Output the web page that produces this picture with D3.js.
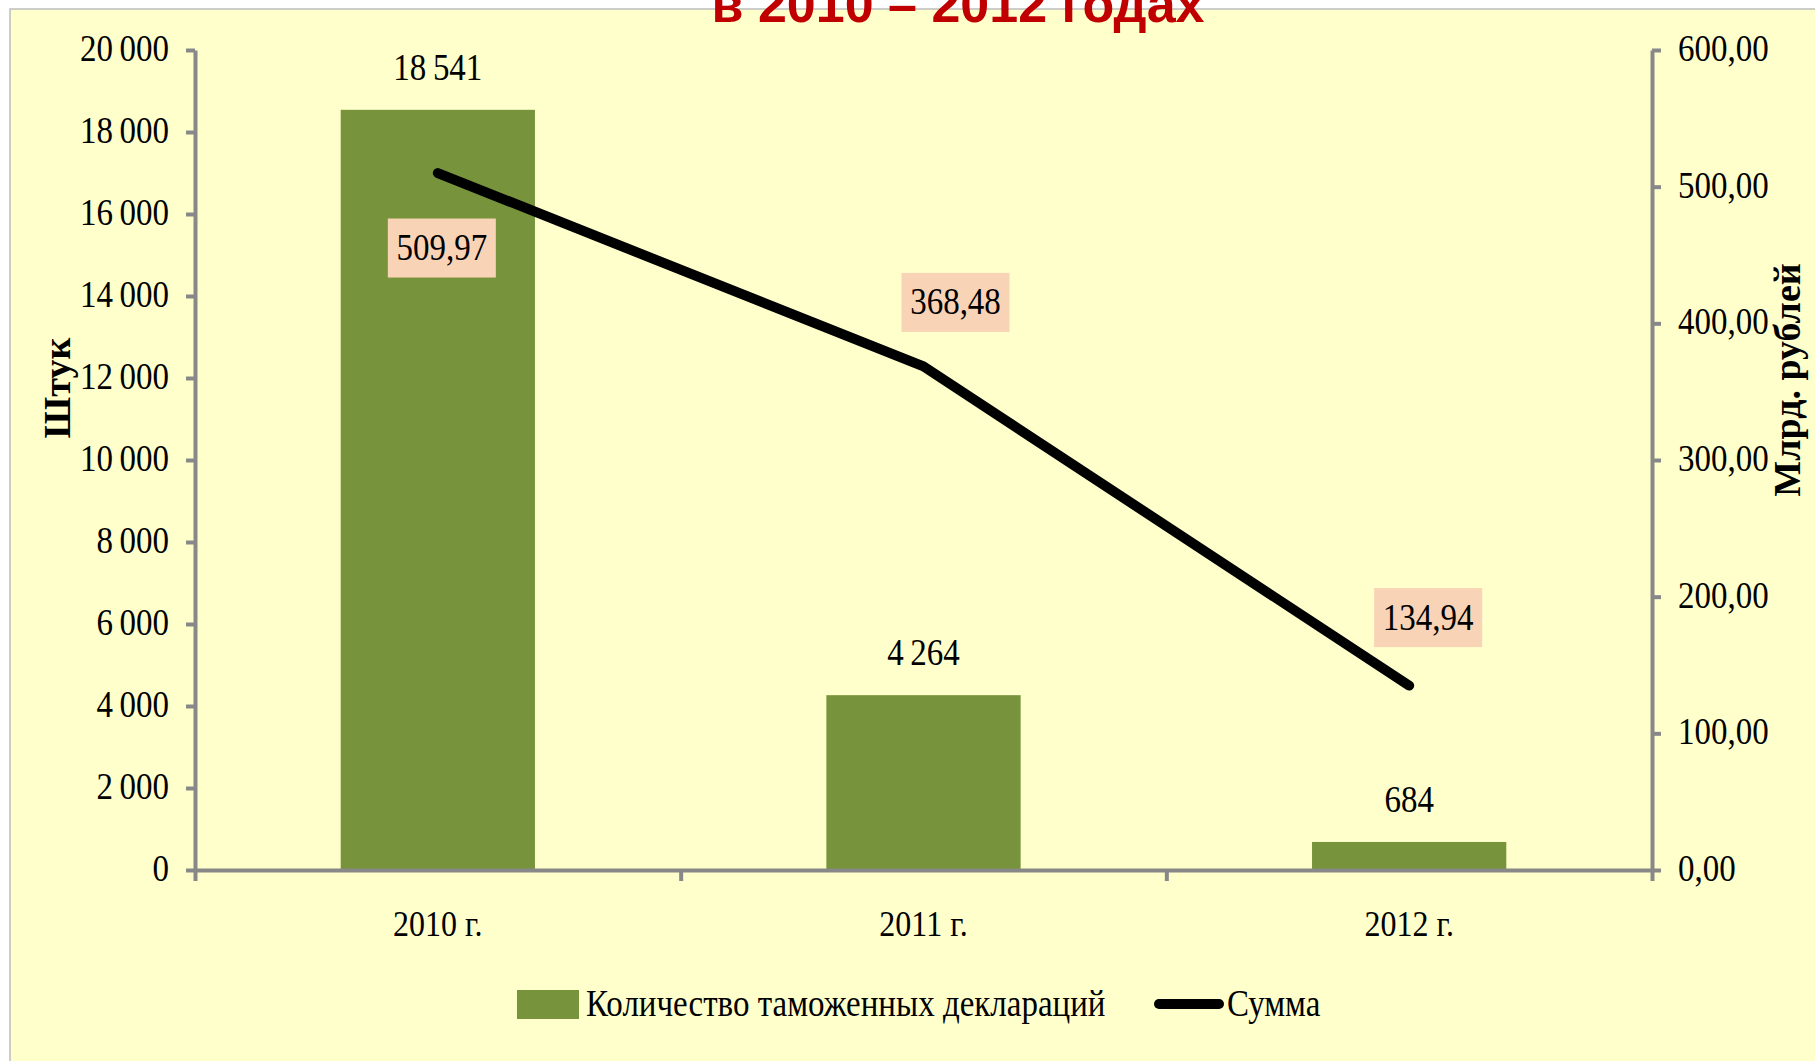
<!DOCTYPE html>
<html>
<head>
<meta charset="utf-8">
<script src="https://cdn.jsdelivr.net/npm/d3@7/dist/d3.min.js"></script>
<style>
  body { margin: 0; background: #fff; }
  svg { display: block; }
  .tick text { font-family: 'Liberation Serif', serif; fill: #000; }
</style>
</head>
<body>
<div class="chart"></div>
<script>
// declarations 2010-2012: count (bars) and sum (line)
const years = ['2010 г.', '2011 г.', '2012 г.']
const declarations = [18541, 4264, 684]
const sums = [509.97, 368.48, 134.94]

const leftTicks = [0, 2000, 4000, 6000, 8000, 10000, 12000, 14000, 16000, 18000, 20000]
const rightTicks = [0, 100, 200, 300, 400, 500, 600]

// hand-placed label boxes for the line (offset from point), like in the original
const sumLabelShift = [[4, 75], [32, -64], [19, -68]]

const ru = d3.formatLocale({decimal: ',', thousands: '\u2009', grouping: [3], currency: ['', '']})
const fmtInt = ru.format(',d')
const fmtDec = ru.format(',.2f')

var svgWidth = 1815
var svgHeight = 1061

var margin = {top: 50, bottom: 191, left: 195, right: 163}
var width = svgWidth - margin.left - margin.right
var height = svgHeight - margin.top - margin.bottom

var AXIS = '#888888'
var FONT = "'Liberation Serif', 'Times New Roman', serif"
var SY = 1.12   // the slide text is a bit stretched vertically

var svg = d3.select('.chart')
    .append('svg')
    .attr('width', svgWidth)
    .attr('height', svgHeight)

// slide background
svg.append('rect')
    .attr('x', 10).attr('y', 9)
    .attr('width', svgWidth).attr('height', svgHeight)
    .attr('fill', '#FFFFCC')
    .attr('stroke', '#BDBDBD')
    .attr('stroke-width', 1.5)

var chartGroup = svg.append('g')
    .attr('transform', `translate(${margin.left}, ${margin.top})`)

var xScale = d3.scaleBand()
    .domain(years)
    .range([0, width])
    .paddingInner(0.6)
    .paddingOuter(0.3)

var yLeft = d3.scaleLinear().domain([0, 20000]).range([height, 0])
var yRight = d3.scaleLinear().domain([0, 600]).range([height, 0])

var cx = i => xScale(years[i]) + xScale.bandwidth() / 2

// bars
chartGroup.selectAll('.bar')
    .data(declarations)
    .enter()
    .append('rect')
    .classed('bar', true)
    .attr('x', (d, i) => xScale(years[i]))
    .attr('y', d => yLeft(d))
    .attr('width', xScale.bandwidth())
    .attr('height', d => height - yLeft(d))
    .attr('fill', '#77933C')

chartGroup.selectAll('.bar-label')
    .data(declarations)
    .enter()
    .append('text')
    .classed('bar-label', true)
    .attr('transform', (d, i) => `translate(${cx(i)}, ${yLeft(d) - 30}) scale(1, ${SY})`)
    .attr('text-anchor', 'middle')
    .attr('font-family', FONT)
    .attr('font-size', '33px')
    .text(d => fmtInt(d))

// axes
function styleAxis(g) {
    g.select('.domain').attr('stroke', AXIS).attr('stroke-width', 4)
    g.selectAll('.tick line').attr('stroke', AXIS).attr('stroke-width', 4)
    g.selectAll('.tick text')
        .attr('font-size', '33px')
        .attr('transform', `scale(1, ${SY})`)
        .attr('dy', '0.28em')
}

chartGroup.append('g')
    .call(d3.axisLeft(yLeft).tickValues(leftTicks).tickFormat(fmtInt)
        .tickSize(9).tickSizeOuter(0).tickPadding(17))
    .call(styleAxis)

chartGroup.append('g')
    .attr('transform', `translate(${width}, 0)`)
    .call(d3.axisRight(yRight).tickValues(rightTicks).tickFormat(fmtDec)
        .tickSize(9).tickSizeOuter(0).tickPadding(17))
    .call(styleAxis)

// x axis: labels centered on bands, ticks on band boundaries
var xEdges = d3.scaleLinear().domain([0, years.length]).range([0, width])
chartGroup.append('g')
    .attr('transform', `translate(0, ${height})`)
    .call(d3.axisBottom(xEdges).tickValues(d3.range(years.length + 1)).tickFormat('')
        .tickSize(11).tickSizeOuter(0))
    .call(g => {
        g.select('.domain').attr('stroke', AXIS).attr('stroke-width', 4)
        g.selectAll('.tick line').attr('stroke', AXIS).attr('stroke-width', 4)
    })

chartGroup.append('g')
    .attr('transform', `translate(0, ${height})`)
    .call(d3.axisBottom(xScale).tickSize(0).tickPadding(36))
    .call(g => g.select('.domain').remove())
    .call(g => g.selectAll('.tick text')
        .attr('font-size', '32px')
        .attr('transform', `scale(1, ${SY})`))

// line
var line = d3.line()
    .x((d, i) => cx(i))
    .y(d => yRight(d))

chartGroup.append('path')
    .datum(sums)
    .attr('d', line)
    .attr('fill', 'none')
    .attr('stroke', '#000')
    .attr('stroke-width', 10)
    .attr('stroke-linecap', 'round')
    .attr('stroke-linejoin', 'round')

var sumLabels = chartGroup.selectAll('.sum-label')
    .data(sums)
    .enter()
    .append('g')
    .classed('sum-label', true)
    .attr('transform', (d, i) => `translate(${cx(i) + sumLabelShift[i][0]}, ${yRight(d) + sumLabelShift[i][1]})`)

sumLabels.append('rect')
    .attr('x', -54).attr('y', -29.5)
    .attr('width', 108).attr('height', 59)
    .attr('fill', '#F9D3B6')

sumLabels.append('text')
    .attr('text-anchor', 'middle')
    .attr('transform', `translate(0, 12) scale(1, ${SY})`)
    .attr('font-family', FONT)
    .attr('font-size', '33px')
    .text(d => fmtDec(d))

// axis titles
svg.append('text')
    .attr('transform', 'translate(70, 388) rotate(-90)')
    .attr('text-anchor', 'middle')
    .attr('font-family', FONT)
    .attr('font-weight', 'bold')
    .attr('font-size', '38px')
    .text('Штук')

svg.append('text')
    .attr('transform', 'translate(1800, 380) rotate(-90)')
    .attr('text-anchor', 'middle')
    .attr('font-family', FONT)
    .attr('font-weight', 'bold')
    .attr('font-size', '38px')
    .text('Млрд. рублей')

// legend
var legend = svg.append('g').attr('transform', 'translate(517, 1004)')
legend.append('rect')
    .attr('x', 0).attr('y', -14)
    .attr('width', 62).attr('height', 29)
    .attr('fill', '#77933C')
legend.append('text')
    .attr('transform', `translate(69, 12) scale(1, ${SY})`)
    .attr('font-family', FONT)
    .attr('font-size', '33px')
    .text('Количество таможенных деклараций')
legend.append('line')
    .attr('x1', 642).attr('x2', 702)
    .attr('y1', 0).attr('y2', 0)
    .attr('stroke', '#000')
    .attr('stroke-width', 10)
    .attr('stroke-linecap', 'round')
legend.append('text')
    .attr('transform', `translate(710, 12) scale(1, ${SY})`)
    .attr('font-family', FONT)
    .attr('font-size', '33px')
    .text('Сумма')

// title (top line is cut off in the original slide)
svg.append('text')
    .attr('x', 958)
    .attr('y', 22)
    .attr('text-anchor', 'middle')
    .attr('font-family', "'Liberation Sans', Arial, sans-serif")
    .attr('font-weight', 'bold')
    .attr('font-size', '52px')
    .attr('fill', '#C00000')
    .text('в 2010 – 2012 годах')
</script>
</body>
</html>
